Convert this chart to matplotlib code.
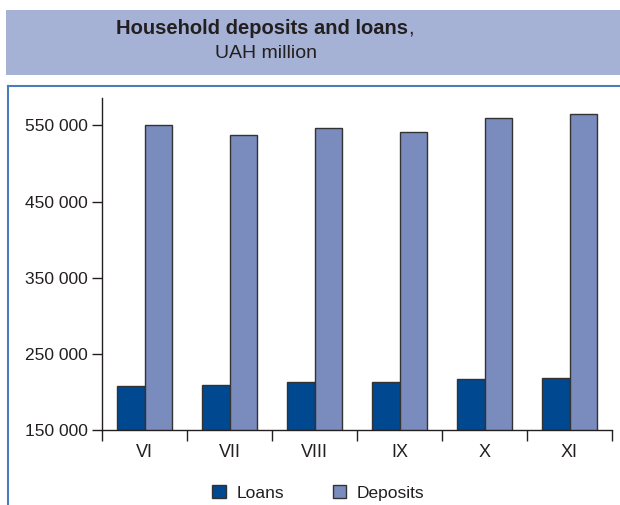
import matplotlib
matplotlib.use("Agg")
import matplotlib.pyplot as plt
from matplotlib.patches import Rectangle
from matplotlib.lines import Line2D
import numpy as np

categories = ["VI", "VII", "VIII", "IX", "X", "XI"]
loans = [207700, 209400, 213000, 212500, 216900, 217800]
deposits = [550000, 537000, 546000, 541000, 560000, 565000]
yticks = [150000, 250000, 350000, 450000, 550000]
ytick_labels = ["150 000", "250 000", "350 000", "450 000", "550 000"]

W, H = 620, 505
fig = plt.figure(figsize=(W / 100, H / 100), dpi=100)
plt.rcParams['font.family'] = ['Liberation Sans', 'DejaVu Sans']
TXT = "#231F20"

def fx(x): return x / W
def fy(y): return 1 - y / H

# header band
fig.patches.append(Rectangle((fx(6), fy(75)), fx(620) - fx(6), fy(10) - fy(75),
                             transform=fig.transFigure, facecolor="#A5B1D5", edgecolor="none", zorder=0))
# frame lines
fig.lines.append(Line2D([fx(7.5), fx(620)], [fy(85.5), fy(85.5)], transform=fig.transFigure,
                        color="#4A7EBB", lw=1.5))
fig.lines.append(Line2D([fx(7.5), fx(7.5)], [fy(85.5), 0], transform=fig.transFigure,
                        color="#4A7EBB", lw=1.5))

t1 = fig.text(fx(262), fy(28), "Household deposits and loans", ha="center", va="center",
              fontsize=14.5, fontweight="bold", color=TXT)
fig.canvas.draw()
bb = t1.get_window_extent()
fig.text(bb.x1 / W, fy(28), ",", ha="left", va="center", fontsize=14.5, color=TXT)
fig.text(fx(266), fy(53), "UAH million", ha="center", va="center", fontsize=14, color=TXT)

ax = fig.add_axes([fx(102), fy(430), fx(612) - fx(102), fy(98) - fy(430)])
x = np.arange(len(categories))
w = 0.318
ax.bar(x - w / 2, loans, width=w, color="#004890", edgecolor="#333333", linewidth=1.0,
       label="Loans", zorder=2)
ax.bar(x + w / 2, deposits, width=w, color="#7A8BBE", edgecolor="#333333", linewidth=1.0,
       label="Deposits", zorder=2)
ax.set_xlim(-0.5, len(categories) - 0.5)
ax.set_ylim(150000, 586000)
ax.set_yticks(yticks)
ax.set_yticklabels(ytick_labels)
ax.set_xticks(x)
ax.set_xticklabels(categories)
ax.set_xticks(np.arange(len(categories) + 1) - 0.5, minor=True)
ax.tick_params(axis="x", which="major", length=0, pad=10, labelsize=13, colors=TXT)
ax.tick_params(axis="x", which="minor", length=8, width=1, direction="out", color=TXT)
ax.tick_params(axis="y", length=7, width=1, direction="out", pad=3, labelsize=12.5, colors=TXT, color=TXT)
for s in ["top", "right"]:
    ax.spines[s].set_visible(False)
for s in ["left", "bottom"]:
    ax.spines[s].set_color(TXT)
    ax.spines[s].set_linewidth(1)
ax.patch.set_alpha(0)

leg = fig.legend(loc="center left", bbox_to_anchor=(fx(212.5), fy(493)), ncol=2, frameon=False,
                 fontsize=12.5, handlelength=0.75, handleheight=0.8, handletextpad=0.62,
                 columnspacing=2.8, borderpad=0, borderaxespad=0)
for t in leg.get_texts():
    t.set_color(TXT)

fig.savefig("out.png", dpi=100)
